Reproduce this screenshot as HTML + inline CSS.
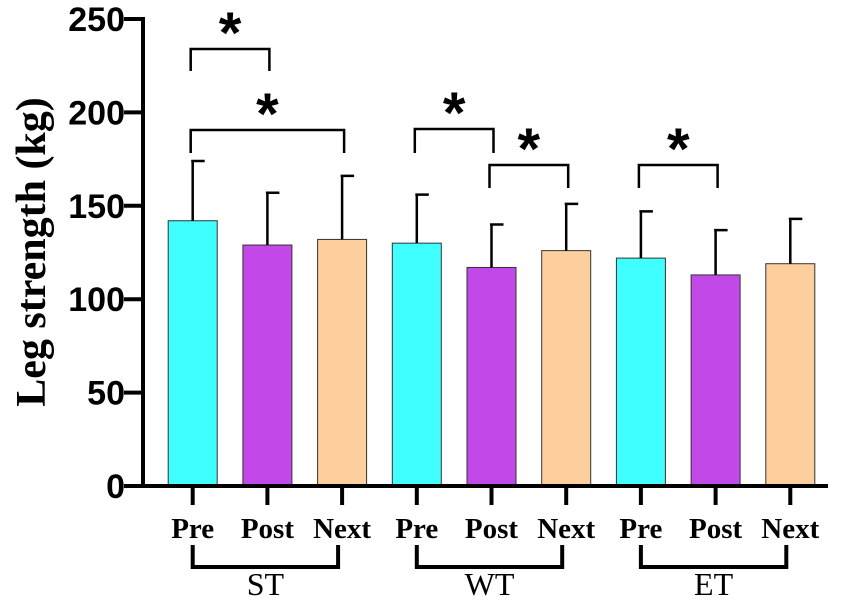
<!DOCTYPE html>
<html><head><meta charset="utf-8"><style>
body{margin:0;background:#fff}
svg{display:block}
</style></head><body>
<svg width="851" height="601" viewBox="0 0 851 601" xmlns="http://www.w3.org/2000/svg" id="chart">
<text x="0" y="0" transform="translate(45,252) rotate(-90)" text-anchor="middle" font-family="Liberation Serif, serif" font-weight="bold" font-size="42">Leg strength (kg)</text>
<g id="plot"></g>
</svg>
<script>
const categories=["Pre","Post","Next","Pre","Post","Next","Pre","Post","Next"];
const means=[142,129,132,130,117,126,122,113,119];
const errUpper=[174,157,166,156,140,151,147,137,143];
const groups=["ST","WT","ET"];
const yTicks=[0,50,100,150,200,250];
const colors=["#40ffff","#c248e8","#fdcf9d"];
const brackets=[[0,1,49,71],[0,2,130,153],[3,4,129,153],[4,5,165,188],[6,7,165,188]];

const NS="http://www.w3.org/2000/svg";
const g=document.getElementById('plot');
const y0=486,yTop=19,vmax=250;
const y=v=>y0-(v/vmax)*(y0-yTop);
const x=i=>192.7+i*74.7;
function mk(t,a,txt){const e=document.createElementNS(NS,t);for(const k in a)e.setAttribute(k,a[k]);if(txt!==undefined)e.textContent=txt;g.appendChild(e);return e;}

means.forEach((m,i)=>{
  const b=mk('rect',{x:x(i)-24.5,y:y(m),width:49,height:y0-y(m),fill:colors[i%3],stroke:'#333','stroke-width':1});
  
  
  const e=mk('path',{d:`M${x(i)} ${y(m)}V${y(errUpper[i])}M${x(i)-1.5} ${y(errUpper[i])}H${x(i)+12}`,stroke:'#000','stroke-width':2.5,fill:'none'});
  
  
  const t=mk('path',{d:`M${x(i)} ${y0}V505`,stroke:'#000','stroke-width':4});
  
  
  const l=mk('text',{x:x(i),y:538,'text-anchor':'middle','font-family':'Liberation Serif, serif','font-weight':'bold','font-size':29},categories[i]);
  
  
});
yTicks.forEach(v=>{
  const t=mk('path',{d:`M124 ${y(v)}H145`,stroke:'#000','stroke-width':4});
  
  
  const l=mk('text',{x:125,y:y(v)+12,'text-anchor':'end','font-family':'Liberation Sans, sans-serif','font-weight':'bold','font-size':34},String(v));
  
  
});
const ax=mk('path',{d:`M143 ${yTop-2}V${y0}H828`,stroke:'#000','stroke-width':4,fill:'none'});


groups.forEach((gn,k)=>{
  const a=x(k*3),b=x(k*3+2)-4;
  const p=mk('path',{d:`M${a} 545V567H${b}V545`,stroke:'#000','stroke-width':4,fill:'none'});
  
  
  const t=mk('text',{x:(a+b)/2,y:595,'text-anchor':'middle','font-family':'Liberation Serif, serif','font-size':32},gn);
  
  
});
brackets.forEach(([i,j,top,bot])=>{
  const a=x(i)-2,b=x(j)+2;
  const p=mk('path',{d:`M${a} ${bot}V${top}H${b}V${bot}`,stroke:'#000','stroke-width':2.5,fill:'none'});
  
  
  const s=mk('text',{x:(a+b)/2,y:top+4,'text-anchor':'middle','font-family':'Liberation Sans, sans-serif','font-weight':'bold','font-size':58},'*');
  
  
});
</script>
</body></html>
